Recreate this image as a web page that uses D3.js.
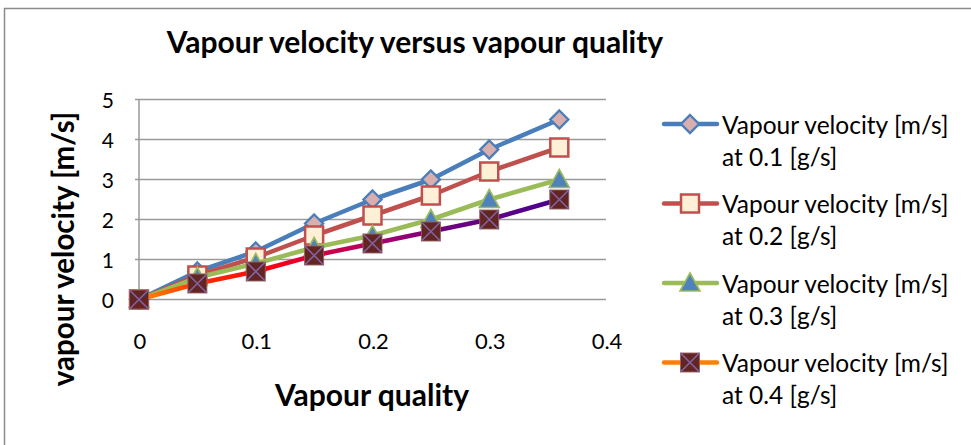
<!DOCTYPE html>
<html>
<head>
<meta charset="utf-8">
<script src="https://cdn.jsdelivr.net/npm/d3@7"></script>
<style>
  html, body { margin: 0; padding: 0; background: #fff; }
  svg { display: block; font-family: Lato, "Open Sans", sans-serif; }
</style>
</head>
<body>
<svg id="chart" width="971" height="445"></svg>
<script>
// Vapour quality (x) and vapour velocity [m/s] for four mass flow rates
const quality = [0, 0.05, 0.1, 0.15, 0.2, 0.25, 0.3, 0.36];
const velocity01 = [0, 0.7, 1.2, 1.9, 2.5, 3.0, 3.75, 4.5];
const velocity02 = [0, 0.6, 1.05, 1.6, 2.1, 2.6, 3.2, 3.8];
const velocity03 = [0, 0.55, 0.9, 1.3, 1.6, 2.0, 2.5, 3.0];
const velocity04 = [0, 0.4, 0.7, 1.1, 1.4, 1.7, 2.0, 2.5];
const seriesNames = [
  ["Vapour velocity [m/s]", "at 0.1 [g/s]"],
  ["Vapour velocity [m/s]", "at 0.2 [g/s]"],
  ["Vapour velocity [m/s]", "at 0.3 [g/s]"],
  ["Vapour velocity [m/s]", "at 0.4 [g/s]"]
];
const xTicks = [0, 0.1, 0.2, 0.3, 0.4];
const yTicks = [0, 1, 2, 3, 4, 5];

const svg = d3.select("#chart");
const x = d3.scaleLinear().domain([0, 0.4]).range([139, 606]);
const y = d3.scaleLinear().domain([0, 5]).range([299.5, 99.5]);

// chart frame
svg.append("rect").attr("x", 4.5).attr("y", 8.5).attr("width", 980).attr("height", 450)
  .attr("fill", "#fff").attr("stroke", "#8c8c8c").attr("stroke-width", 1.5);

// gridlines
svg.append("g").selectAll("line").data(yTicks).join("line")
  .attr("x1", x(0) - 4).attr("x2", x(0.4))
  .attr("y1", d => y(d)).attr("y2", d => y(d))
  .attr("stroke", "#9a9a9a").attr("stroke-width", 1.5);
svg.append("line").attr("x1", x(0)).attr("x2", x(0))
  .attr("y1", y(0)).attr("y2", y(5))
  .attr("stroke", "#9a9a9a").attr("stroke-width", 1.5);

// tick labels
svg.append("g").selectAll("text").data(yTicks).join("text")
  .attr("x", 114).attr("y", d => y(d) + 1).attr("dy", "0.36em")
  .attr("text-anchor", "end").attr("font-size", 21).attr("fill", "#000")
  .text(d => d);
svg.append("g").selectAll("text").data(xTicks).join("text")
  .attr("x", d => x(d) + 1).attr("y", 349)
  .attr("text-anchor", "middle").attr("font-size", 22).attr("fill", "#000")
  .text(d => d);

// titles
svg.append("text").attr("x", 415).attr("y", 53).attr("text-anchor", "middle")
  .attr("font-size", 30).attr("font-weight", "bold").text("Vapour velocity versus vapour quality");
svg.append("text").attr("x", 372).attr("y", 406).attr("text-anchor", "middle")
  .attr("font-size", 30).attr("font-weight", "bold").text("Vapour quality");
svg.append("text").attr("transform", "translate(74,249) rotate(-90)").attr("text-anchor", "middle")
  .attr("font-size", 29.5).attr("font-weight", "bold").text("vapour velocity [m/s]");

// gradient for the 0.4 g/s line
const defs = svg.append("defs");
const grad = defs.append("linearGradient").attr("id", "g04")
  .attr("gradientUnits", "userSpaceOnUse")
  .attr("x1", x(0)).attr("x2", x(0.36)).attr("y1", 0).attr("y2", 0);
[[0, "#ff8c00"], [0.14, "#ff3000"], [0.3, "#ff0010"], [0.42, "#d8003e"], [0.56, "#b0006a"], [0.72, "#70007e"], [1, "#4a0090"]]
  .forEach(([o, c]) => grad.append("stop").attr("offset", o).attr("stop-color", c));

const series = [
  { values: velocity01, line: "#4a7ebb", legendLine: "#4a7ebb", marker: "diamond", fill: "#d8aeae", stroke: "#4a7ebb" },
  { values: velocity02, line: "#c0504d", legendLine: "#c0504d", marker: "square", fill: "#fdf0d6", stroke: "#c0504d" },
  { values: velocity03, line: "#9bbb59", legendLine: "#9bbb59", marker: "triangle", fill: "#4f81bd", stroke: "#9bbb59" },
  { values: velocity04, line: "url(#g04)", legendLine: "#ff8000", marker: "xsquare", fill: "#632523", stroke: "#8064a2" }
];

function drawMarker(g, type, fill, stroke) {
  if (type === "diamond") {
    g.append("path").attr("d", "M0,-9L9,0L0,9L-9,0Z")
      .attr("fill", fill).attr("stroke", stroke).attr("stroke-width", 2.4);
  } else if (type === "square") {
    g.append("rect").attr("x", -9).attr("y", -9).attr("width", 18).attr("height", 18)
      .attr("fill", fill).attr("stroke", stroke).attr("stroke-width", 2.5);
  } else if (type === "triangle") {
    g.append("path").attr("d", "M0,-10L10,8L-10,8Z")
      .attr("fill", fill).attr("stroke", stroke).attr("stroke-width", 1.6);
  } else {
    g.append("rect").attr("x", -9.5).attr("y", -9.5).attr("width", 19).attr("height", 19)
      .attr("fill", fill).attr("stroke", "#9a6060").attr("stroke-width", 0.9);
    g.append("path").attr("d", "M-9.5,-9.5L9.5,9.5M9.5,-9.5L-9.5,9.5")
      .attr("stroke", stroke).attr("stroke-width", 1.6);
  }
}

const lineGen = d3.line().x((d, i) => x(quality[i])).y(d => y(d));
series.forEach(s => {
  svg.append("path").datum(s.values).attr("d", lineGen)
    .attr("fill", "none").attr("stroke", s.line).attr("stroke-width", 4.5)
    .attr("stroke-linejoin", "round").attr("stroke-linecap", "round");
  s.values.forEach((v, i) => {
    const g = svg.append("g").attr("transform", `translate(${x(quality[i])},${y(v)})`);
    drawMarker(g, s.marker, s.fill, s.stroke);
  });
});

// legend
const legend = svg.append("g");
series.forEach((s, i) => {
  const top = 124 + i * 79.5;
  legend.append("line").attr("x1", 664).attr("x2", 717).attr("y1", top).attr("y2", top)
    .attr("stroke", s.legendLine).attr("stroke-width", 4.5).attr("stroke-linecap", "round");
  const g = legend.append("g").attr("transform", `translate(690,${top})`);
  drawMarker(g, s.marker, s.fill, s.stroke);
  legend.append("text").attr("x", 722).attr("y", top + 1).attr("dy", "0.35em")
    .attr("font-size", 24.5).text(seriesNames[i][0]);
  legend.append("text").attr("x", 722).attr("y", top + 33).attr("dy", "0.35em")
    .attr("font-size", 24.5).text(seriesNames[i][1]);
});
</script>
</body>
</html>
